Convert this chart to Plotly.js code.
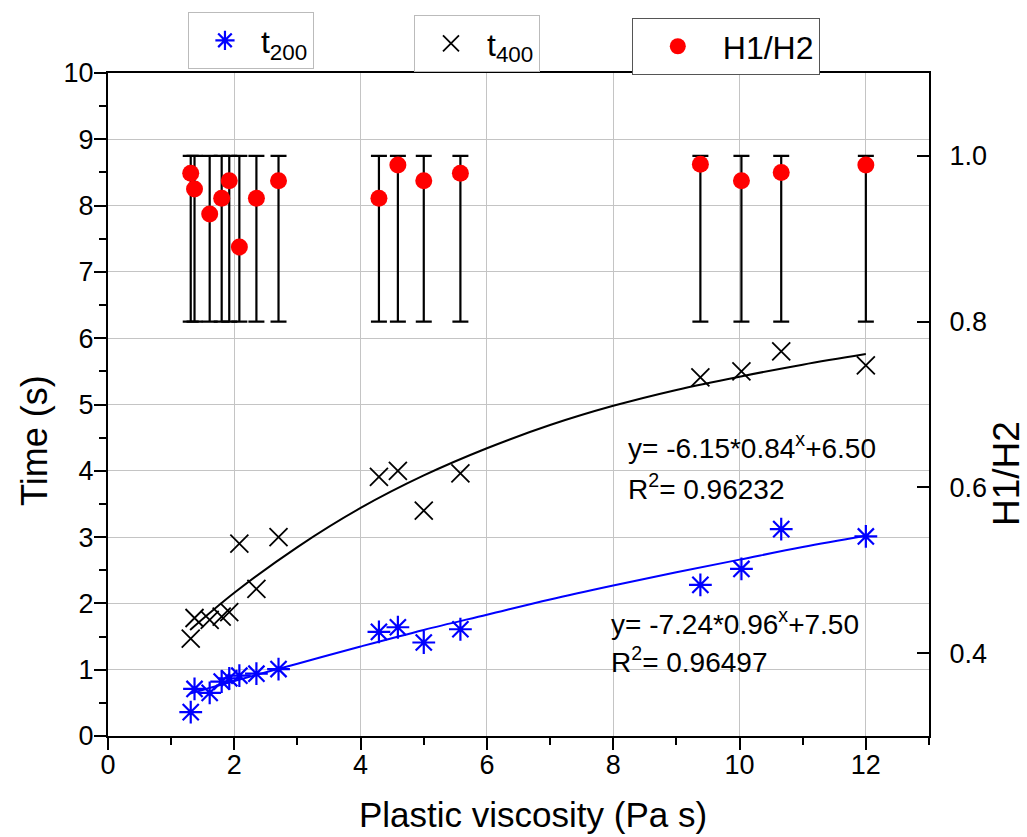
<!DOCTYPE html>
<html>
<head>
<meta charset="utf-8">
<script src="https://cdn.plot.ly/plotly-3.0.1.min.js"></script>
<style>
html,body{margin:0;padding:0;background:#fff;}
#chart{width:1027px;height:837px;}
</style>
</head>
<body>
<div id="chart"></div>
<script>
// ---- data ----
const viscosity = [1.31,1.37,1.61,1.80,1.92,2.08,2.35,2.70,4.29,4.59,5.00,5.58,9.38,10.03,10.66,12.00];
const t200 = [0.36,0.71,0.65,0.82,0.87,0.91,0.94,1.01,1.57,1.64,1.41,1.61,2.28,2.52,3.12,3.01];
const t400 = [1.47,1.78,1.75,1.80,1.87,2.90,2.22,3.00,3.91,4.00,3.40,3.96,5.41,5.50,5.80,5.59];
const h1h2 = [0.979,0.960,0.930,0.949,0.970,0.890,0.949,0.970,0.949,0.989,0.970,0.979,0.990,0.970,0.980,0.989];
const h1h2Upper = [1.0,1.0,1.0,1.0,1.0,1.0,1.0,1.0,1.0,1.0,1.0,1.0,1.0,1.0,1.0,1.0];
const h1h2Lower = [0.8,0.8,0.8,0.8,0.8,0.8,0.8,0.8,0.8,0.8,0.8,0.8,0.8,0.8,0.8,0.8];

// fitted curves
const fitX = [1.3,2,3,4,5,6,7,8,9,10,11,12];
const fitT400 = [1.60,2.16,2.85,3.44,3.93,4.34,4.69,4.98,5.22,5.42,5.60,5.76];
const fitT200 = [0.64,0.83,1.09,1.35,1.60,1.83,2.06,2.27,2.47,2.66,2.85,3.02];

const xTickVals = [0,2,4,6,8,10,12];
const yTickVals = [0,1,2,3,4,5,6,7,8,9,10];
const y2TickVals = [0.4,0.6,0.8,1.0];
const y2TickText = ['0.4','0.6','0.8','1.0'];

const eq400 = 'y= -6.15*0.84<sup>x</sup>+6.50';
const r400 = 'R<sup>2</sup>= 0.96232';
const eq200 = 'y= -7.24*0.96<sup>x</sup>+7.50';
const r200 = 'R<sup>2</sup>= 0.96497';

const FONT = 'Liberation Sans, Arial, sans-serif';

const errPlus = h1h2.map((v,i)=>h1h2Upper[i]-v);
const errMinus = h1h2.map((v,i)=>v-h1h2Lower[i]);

const traces = [
  {x: fitX, y: fitT400, mode:'lines', line:{color:'#000000', width:2, shape:'spline'}, showlegend:false, hoverinfo:'skip'},
  {x: fitX, y: fitT200, mode:'lines', line:{color:'#0000ff', width:2, shape:'spline'}, showlegend:false, hoverinfo:'skip'},
  {x: viscosity, y: h1h2, yaxis:'y2', mode:'markers', name:'H1/H2', legend:'legend3',
   marker:{symbol:'circle', size:17, color:'#ff0000'},
   error_y:{type:'data', symmetric:false, array: errPlus, arrayminus: errMinus, color:'#000000', thickness:2.2, width:8}},
  {x: viscosity, y: t200, mode:'markers', name:'t<sub>200</sub>', legend:'legend',
   marker:{symbol:'asterisk-open', size:19, color:'#0000ff', line:{color:'#0000ff', width:2.2}}},
  {x: viscosity, y: t400, mode:'markers', name:'t<sub>400</sub>', legend:'legend2',
   marker:{symbol:'x-thin-open', size:18, color:'#000000', line:{color:'#000000', width:1.8}}}
];

const legBase = {bgcolor:'#ffffff', borderwidth:1, xanchor:'left', yanchor:'top', itemclick:false, itemdoubleclick:false, font:{family:FONT, size:32, color:'#000'}, tracegroupgap:0};

const layout = {
  width:1027, height:837,
  margin:{l:108, r:98, t:73, b:101},
  paper_bgcolor:'#ffffff', plot_bgcolor:'#ffffff',
  font:{family:FONT, color:'#000'},
  xaxis:{range:[0,13], tickvals:xTickVals, showgrid:true, gridcolor:'#c4c4c4', gridwidth:1,
    showline:true, linecolor:'#000', linewidth:2, mirror:true, zeroline:false,
    ticks:'outside', ticklen:12, tickwidth:2, tickcolor:'#000', ticklabelstandoff:-8,
    minor:{dtick:1, tick0:0, ticks:'outside', ticklen:7, tickwidth:2, tickcolor:'#000', showgrid:false},
    tickfont:{family:FONT, size:27, color:'#000'}},
  yaxis:{range:[0,10], tickvals:yTickVals, showgrid:true, gridcolor:'#c4c4c4', gridwidth:1,
    showline:true, linecolor:'#000', linewidth:2, zeroline:false,
    ticks:'outside', ticklen:12, tickwidth:2, tickcolor:'#000', ticklabelstandoff:-5,
    minor:{dtick:0.5, tick0:0, ticks:'outside', ticklen:7, tickwidth:2, tickcolor:'#000', showgrid:false},
    tickfont:{family:FONT, size:27, color:'#000'}},
  yaxis2:{overlaying:'y', side:'right', range:[0.3,1.1], tickvals:y2TickVals, ticktext:y2TickText,
    showgrid:false, showline:true, linecolor:'#000', linewidth:2, zeroline:false,
    ticks:'inside', ticklen:12, tickwidth:2, tickcolor:'#000', ticklabelstandoff:13,
    tickfont:{family:FONT, size:27, color:'#000'}},
  legend: Object.assign({}, legBase, {x:0.0974, y:1.092, bordercolor:'#bbbbbb', itemwidth:62}),
  legend2: Object.assign({}, legBase, {x:0.3727, y:1.0875, bordercolor:'#bbbbbb', itemwidth:62}),
  legend3: Object.assign({}, legBase, {x:0.638, y:1.083, bordercolor:'#555555', itemwidth:80, font:{family:FONT, size:32, color:'#000'}}),
  annotations:[
    {text:'Plastic viscosity (Pa s)', xref:'paper', yref:'paper', x:(533-108)/821, y:(736-814)/663, xanchor:'center', yanchor:'middle', showarrow:false, font:{family:FONT, size:35, color:'#000'}},
    {text:'Time (s)', xref:'paper', yref:'paper', x:(34-108)/821, y:(736-441)/663, xanchor:'center', yanchor:'middle', textangle:-90, showarrow:false, font:{family:FONT, size:36, color:'#000'}},
    {text:'H1/H2', xref:'paper', yref:'paper', x:(1006-108)/821, y:(736-473)/663, xanchor:'center', yanchor:'middle', textangle:-90, showarrow:false, font:{family:FONT, size:37, color:'#000'}},
    {text:eq400, xref:'x', yref:'y', x:8.2, y:4.38, xanchor:'left', yanchor:'middle', showarrow:false, font:{family:FONT, size:28, color:'#000'}},
    {text:r400, xref:'x', yref:'y', x:8.2, y:3.75, xanchor:'left', yanchor:'middle', showarrow:false, font:{family:FONT, size:28, color:'#000'}},
    {text:eq200, xref:'x', yref:'y', x:7.93, y:1.72, xanchor:'left', yanchor:'middle', showarrow:false, font:{family:FONT, size:28, color:'#000'}},
    {text:r200, xref:'x', yref:'y', x:7.93, y:1.15, xanchor:'left', yanchor:'middle', showarrow:false, font:{family:FONT, size:28, color:'#000'}}
  ]
};

Plotly.newPlot('chart', traces, layout, {staticPlot:true, displayModeBar:false});
</script>
</body>
</html>
